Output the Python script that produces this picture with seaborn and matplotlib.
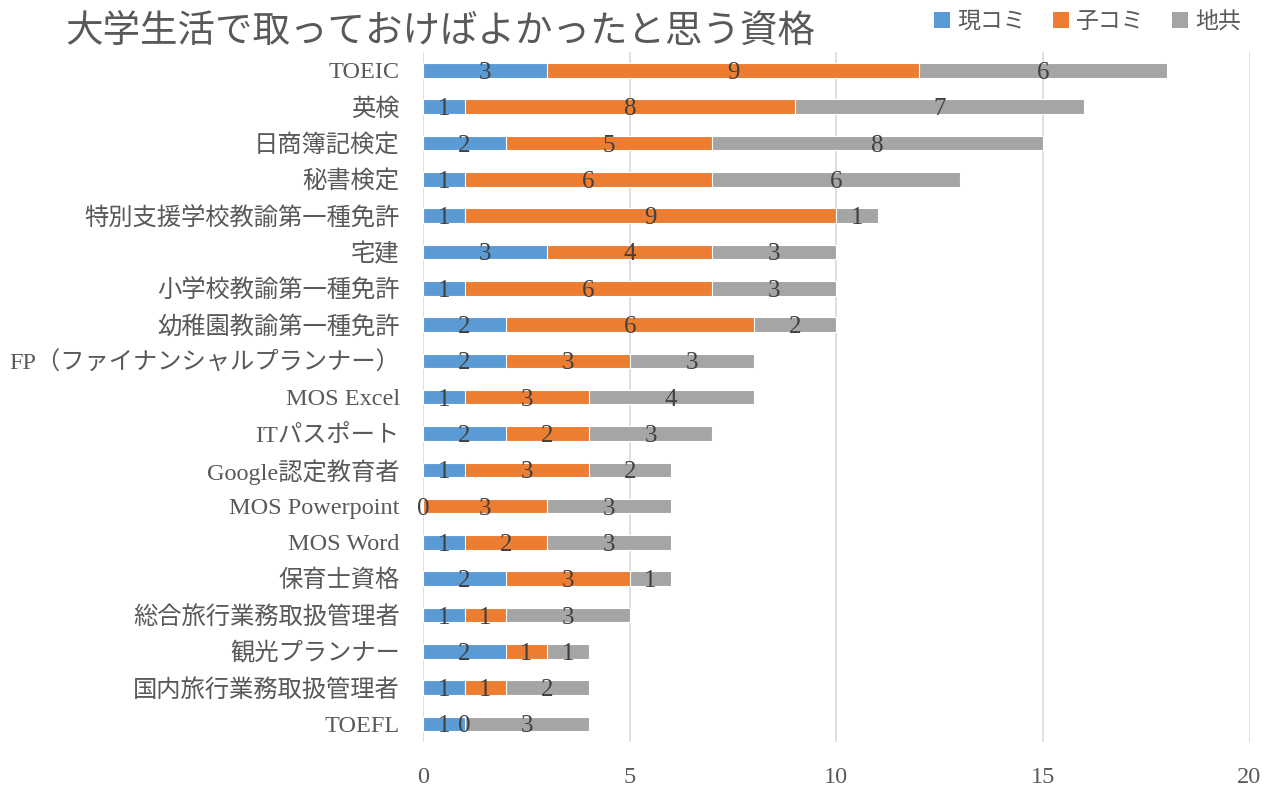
import numpy as np
import pandas as pd
import seaborn as sns
import matplotlib.pyplot as plt
from matplotlib.patches import Patch

# Data (top to bottom)
categories = [
    "TOEIC", "英検", "日商簿記検定", "秘書検定", "特別支援学校教諭第一種免許",
    "宅建", "小学校教諭第一種免許", "幼稚園教諭第一種免許",
    "FP（ファイナンシャルプランナー）", "MOS Excel", "ITパスポート",
    "Google認定教育者", "MOS Powerpoint", "MOS Word", "保育士資格",
    "総合旅行業務取扱管理者", "観光プランナー", "国内旅行業務取扱管理者", "TOEFL",
]
gen_komi = [3, 1, 2, 1, 1, 3, 1, 2, 2, 1, 2, 1, 0, 1, 2, 1, 2, 1, 1]
ko_komi = [9, 8, 5, 6, 9, 4, 6, 6, 3, 3, 2, 3, 3, 2, 3, 1, 1, 1, 0]
chikyo = [6, 7, 8, 6, 1, 3, 3, 2, 3, 4, 3, 2, 3, 3, 1, 3, 1, 2, 3]
series_names = ["現コミ", "子コミ", "地共"]
colors = ["#5B9BD5", "#ED7D31", "#A5A5A5"]

df = pd.DataFrame({"cat": categories, "a": gen_komi, "b": ko_komi, "c": chikyo})
df["ab"] = df["a"] + df["b"]
df["abc"] = df["ab"] + df["c"]

sns.set_style("white")
plt.rcParams["font.family"] = ["Liberation Serif", "Noto Sans CJK JP", "DejaVu Sans"]

fig = plt.figure(figsize=(12.75, 7.92), dpi=100)
ax = fig.add_axes([0.332, 0.063, 0.648, 0.871])

# stacked bars drawn as overlaid cumulative totals
for col, c in zip(["abc", "ab", "a"], colors[::-1]):
    sns.barplot(data=df, x=col, y="cat", color=c, width=0.4, orient="h",
                edgecolor="white", linewidth=0.8, saturation=1, ax=ax, zorder=3)

# data labels centered in each segment
for i, row in df.iterrows():
    left = 0
    for v in (row["a"], row["b"], row["c"]):
        ax.text(left + v / 2, i, str(v), ha="center", va="center_baseline",
                fontsize=18, color="#404040", zorder=4)
        left += v

ax.set_xlim(0, 20)
ax.set_xticks([0, 5, 10, 15, 20])
ax.xaxis.grid(True, color="#D9D9D9", linewidth=1.2)
ax.set_axisbelow(True)
ax.set_xlabel("")
ax.set_ylabel("")
for s in ax.spines.values():
    s.set_visible(False)
ax.tick_params(axis="x", length=0, pad=18, labelsize=17.5, labelcolor="#595959")
ax.tick_params(axis="y", length=0, pad=17, labelsize=17.5, labelcolor="#595959")

fig.text(0.051, 0.958, "大学生活で取っておけばよかったと思う資格",
         fontsize=27, color="#595959", va="center", ha="left")

handles = [Patch(facecolor=c, edgecolor="none") for c in colors]
fig.legend(handles, series_names, loc="center", bbox_to_anchor=(0.853, 0.972),
           ncol=3, frameon=False, fontsize=16.5, handlelength=0.7, handleheight=0.7,
           handletextpad=0.3, columnspacing=1.2, labelcolor="#595959")

plt.savefig("out.png", dpi=100)
plt.close()
